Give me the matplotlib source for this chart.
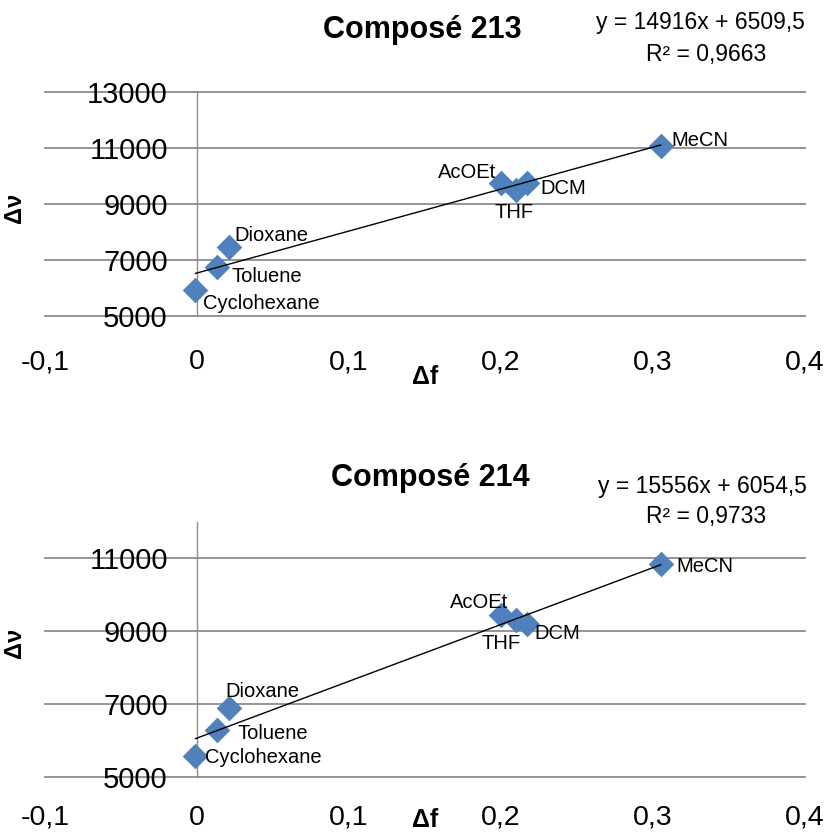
import numpy as np
import matplotlib
matplotlib.use('Agg')
import matplotlib.pyplot as plt

plt.rcParams['font.family'] = ['Liberation Sans', 'DejaVu Sans']

#%% data
solvents = ['Cyclohexane', 'Toluene', 'Dioxane', 'AcOEt', 'THF', 'DCM', 'MeCN']
delta_f = [-0.001, 0.013, 0.021, 0.200, 0.210, 0.217, 0.305]

nu_213 = [5930, 6750, 7460, 9750, 9500, 9750, 11070]
nu_214 = [5580, 6290, 6890, 9440, 9300, 9190, 10840]

eq_213 = ['y = 14916x + 6509,5', 'R² = 0,9663']
eq_214 = ['y = 15556x + 6054,5', 'R² = 0,9733']

xticks = [-0.1, 0, 0.1, 0.2, 0.3, 0.4]
xtick_labels = ['-0,1', '0', '0,1', '0,2', '0,3', '0,4']

# label offsets (pixels) and alignment for each solvent name
off_213 = [(8, -14, 'left'), (15, -10, 'left'), (5, 12, 'left'), (-5, 11, 'right'),
           (-2, -23, 'center'), (14, -6, 'left'), (11, 6, 'left')]
off_214 = [(10, -2, 'left'), (21, -3, 'left'), (-4, 17, 'left'), (7, 13, 'right'),
           (-15, -23, 'center'), (8, -9, 'left'), (16, -2, 'left')]

blue = '#4F81BD'
grid_col = '#8C8C8C'


def draw_panel(ax, nu, offsets, ylim, yticks, xpad, ylab_y, xlab_y):
    ax.scatter(delta_f, nu, marker='D', s=170, color=blue, zorder=3, linewidths=0)
    # linear trendline
    p = np.polyfit(delta_f, nu, 1)
    xs = np.array([min(delta_f), max(delta_f)])
    ax.plot(xs, np.polyval(p, xs), color='black', lw=1.0, zorder=4)

    for name, x, y, (dx, dy, ha) in zip(solvents, delta_f, nu, offsets):
        ax.annotate(name, (x, y), xytext=(dx, dy), textcoords='offset pixels',
                    ha=ha, va='center', fontsize=14.5, zorder=5)

    ax.set_xlim(-0.1, 0.4)
    ax.set_ylim(*ylim)
    ax.set_xticks(xticks)
    ax.set_xticklabels(xtick_labels)
    ax.set_yticks(yticks)
    ax.set_yticklabels([str(v) for v in yticks])

    for s in ['top', 'right', 'bottom']:
        ax.spines[s].set_visible(False)
    ax.spines['left'].set_position(('data', 0))
    ax.spines['left'].set_color(grid_col)
    ax.spines['left'].set_linewidth(1.0)

    ax.grid(axis='y', color=grid_col, lw=1.3)
    for gl in ax.yaxis.get_gridlines():
        gl.set_clip_on(False)
    ax.set_axisbelow(True)

    ax.tick_params(axis='y', length=0, pad=21, labelsize=21)
    ax.tick_params(axis='x', length=0, pad=xpad, labelsize=20.5)

    ax.set_ylabel('Δν', fontsize=17, fontweight='bold')
    ax.yaxis.set_label_coords(-0.025, ylab_y)
    ax.set_xlabel('Δf', fontsize=18, fontweight='bold', va='center')
    ax.xaxis.set_label_coords(0.5, xlab_y)


fig = plt.figure(figsize=(8.33, 8.36), dpi=100)
W, H = 833, 836

ax1 = fig.add_axes([45 / W, 1 - 316 / H, 760 / W, 224 / H])
draw_panel(ax1, nu_213, off_213, (5000, 13000), [5000, 7000, 9000, 11000, 13000],
           24, 0.482, -0.272)

ax2 = fig.add_axes([45 / W, 1 - 777 / H, 760 / W, 255 / H])
draw_panel(ax2, nu_214, off_214, (5000, 12000), [5000, 7000, 9000, 11000],
           20, 0.525, -0.17)

# titles and regression equations
fig.text(422 / W, 1 - 30 / H, 'Composé 213', ha='center', va='center',
         fontsize=22, fontweight='bold')
fig.text(700 / W, 1 - 22 / H, eq_213[0], ha='center', va='center', fontsize=16.5)
fig.text(706 / W, 1 - 54 / H, eq_213[1], ha='center', va='center', fontsize=16.5)

fig.text(430 / W, 1 - 478 / H, 'Composé 214', ha='center', va='center',
         fontsize=22, fontweight='bold')
fig.text(702 / W, 1 - 486 / H, eq_214[0], ha='center', va='center', fontsize=16.5)
fig.text(706 / W, 1 - 516 / H, eq_214[1], ha='center', va='center', fontsize=16.5)

fig.savefig('out.png', dpi=100)
